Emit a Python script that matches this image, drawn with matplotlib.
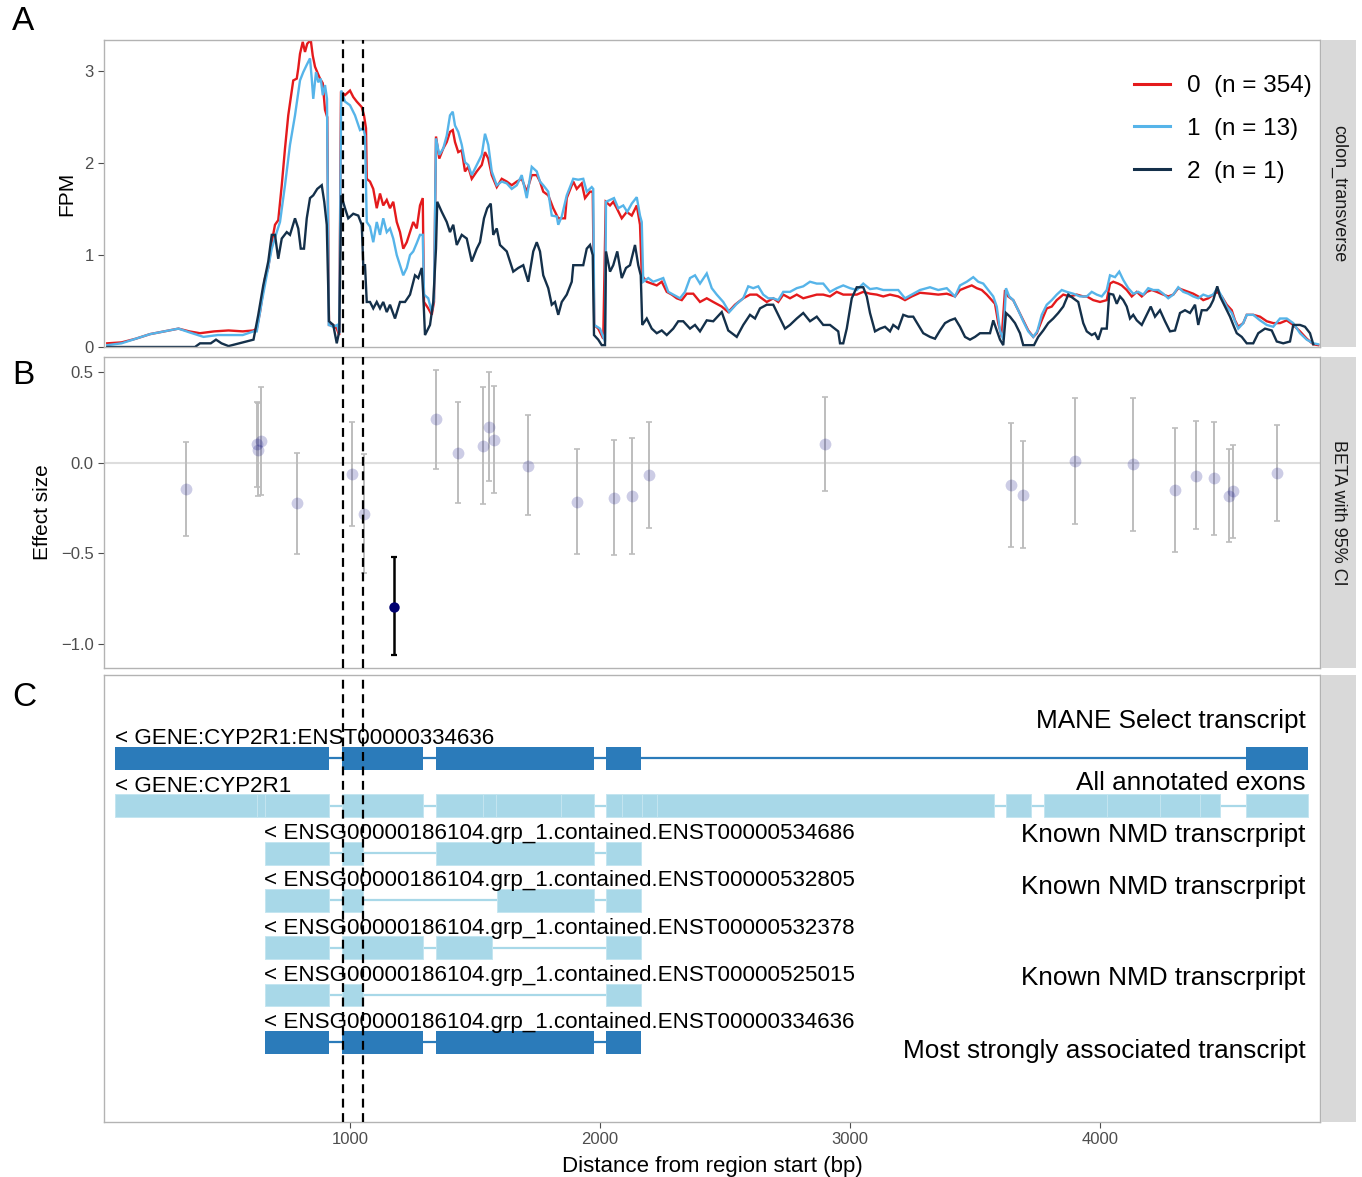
import matplotlib
matplotlib.use('Agg')
import matplotlib.pyplot as plt
from matplotlib.patches import Rectangle

plt.rcParams['font.family'] = ['Liberation Sans', 'DejaVu Sans']

# ---- Panel A: coverage (FPM) per genotype group ----
group_labels = ['0  (n = 354)', '1  (n = 13)', '2  (n = 1)']
group_colors = ['#e41a1c', '#56b4e9', '#14304a']

g0_pos = [29, 86, 143, 200, 257, 314, 357, 400, 457, 514, 571, 614, 627, 640, 660, 673, 687, 700, 713, 727,
          740, 753, 773, 787, 793, 800, 811, 820, 829, 843, 851, 860, 869, 880, 891, 900, 909, 916, 933, 947,
          957, 964, 980, 1000, 1013, 1027, 1047, 1056, 1064, 1067, 1080, 1093, 1107, 1120, 1133, 1147, 1160,
          1173, 1187, 1200, 1213, 1227, 1240, 1253, 1267, 1280, 1291, 1296, 1313, 1327, 1336, 1344, 1357,
          1373, 1387, 1400, 1411, 1420, 1433, 1447, 1460, 1473, 1487, 1507, 1527, 1540, 1553, 1567, 1587,
          1607, 1627, 1647, 1667, 1687, 1707, 1727, 1747, 1760, 1773, 1793, 1813, 1833, 1860, 1867, 1893,
          1907, 1927, 1940, 1960, 1971, 1977, 1993, 2013, 2023, 2040, 2053, 2067, 2087, 2107, 2127, 2147,
          2160, 2167, 2187, 2207, 2227, 2247, 2267, 2287, 2307, 2327, 2347, 2373, 2400, 2427, 2453, 2487,
          2513, 2540, 2573, 2600, 2627, 2647, 2667, 2693, 2713, 2733, 2760, 2787, 2813, 2840, 2867, 2893,
          2920, 2947, 2973, 3000, 3027, 3053, 3080, 3107, 3133, 3160, 3193, 3220, 3247, 3280, 3320, 3353,
          3387, 3420, 3440, 3467, 3487, 3507, 3527, 3547, 3567, 3580, 3593, 3607, 3620, 3633, 3653, 3673,
          3693, 3713, 3733, 3747, 3767, 3787, 3807, 3827, 3853, 3880, 3907, 3933, 3947, 3973, 4000, 4027,
          4040, 4053, 4073, 4087, 4107, 4127, 4147, 4167, 4187, 4207, 4227, 4253, 4273, 4293, 4313, 4333,
          4353, 4373, 4393, 4413, 4433, 4453, 4469, 4487, 4507, 4527, 4540, 4553, 4573, 4587, 4613, 4640,
          4667, 4693, 4720, 4747, 4773, 4800, 4827, 4840, 4853, 4873]
g0_fpm = [.04, .05, .09, .14, .17, .20, .17, .15, .17, .18, .17, .18, .20, .38, .75, .86, 1.14, 1.33, 1.38, 1.76,
          2.16, 2.52, 2.90, 2.92, 3.03, 3.19, 3.32, 3.21, 3.30, 3.34, 3.17, 3.05, 2.99, 2.92, 2.87, 2.58, 2.50,
          .24, .24, .20, .13, 2.78, 2.74, 2.79, 2.72, 2.67, 2.61, 2.52, 2.38, 1.83, 1.80, 1.72, 1.51, 1.67,
          1.54, 1.60, 1.51, 1.58, 1.36, 1.25, 1.07, 1.14, 1.25, 1.36, 1.29, 1.54, 1.62, .49, .42, .35, .49,
          2.29, 2.05, 2.16, 2.23, 2.34, 2.36, 2.23, 2.12, 2.14, 1.91, 1.96, 1.83, 1.91, 1.98, 2.12, 2.05,
          1.87, 1.74, 1.83, 1.80, 1.76, 1.80, 1.83, 1.69, 1.87, 1.87, 1.80, 1.69, 1.65, 1.51, 1.40, 1.40,
          1.62, 1.80, 1.72, 1.78, 1.62, 1.69, 1.69, .24, .20, .09, 1.58, 1.54, 1.58, 1.51, 1.40, 1.47, 1.43,
          1.54, 1.33, .78, .71, .69, .67, .71, .60, .57, .53, .51, .58, .58, .49, .53, .49, .44, .38, .46,
          .53, .57, .57, .53, .49, .53, .49, .57, .53, .57, .53, .55, .57, .57, .55, .60, .57, .57, .57, .60,
          .58, .57, .55, .57, .55, .51, .55, .59, .58, .57, .58, .55, .62, .65, .67, .64, .62, .57, .51, .47,
          .26, .11, .62, .55, .51, .40, .29, .18, .11, .15, .29, .42, .44, .51, .57, .55, .57, .55, .55, .51,
          .49, .51, .69, .71, .69, .67, .62, .55, .60, .55, .60, .62, .60, .57, .55, .57, .64, .62, .60, .58,
          .55, .51, .53, .57, .60, .55, .46, .40, .29, .22, .26, .35, .35, .33, .28, .26, .26, .29, .24, .17,
          .09, .06, .03, .02]

g1_pos = [29, 86, 143, 200, 257, 314, 357, 414, 471, 514, 571, 614, 627, 647, 667, 687, 707, 720, 740, 760,
          780, 800, 813, 827, 840, 847, 853, 864, 873, 883, 891, 900, 908, 915, 933, 949, 957, 965, 980, 1000,
          1020, 1040, 1053, 1060, 1067, 1080, 1093, 1107, 1120, 1133, 1147, 1160, 1173, 1187, 1200, 1213,
          1227, 1240, 1253, 1267, 1280, 1291, 1296, 1313, 1327, 1336, 1344, 1357, 1373, 1387, 1400, 1411,
          1420, 1433, 1447, 1460, 1473, 1487, 1507, 1527, 1540, 1553, 1567, 1587, 1607, 1627, 1647, 1667,
          1687, 1707, 1727, 1747, 1760, 1773, 1793, 1807, 1827, 1833, 1847, 1867, 1893, 1913, 1933, 1947,
          1967, 1973, 1977, 2000, 2020, 2024, 2040, 2056, 2073, 2093, 2109, 2127, 2147, 2160, 2167, 2173,
          2193, 2213, 2233, 2253, 2273, 2293, 2320, 2340, 2360, 2380, 2400, 2427, 2447, 2467, 2493, 2517,
          2547, 2573, 2593, 2613, 2633, 2653, 2673, 2693, 2713, 2733, 2760, 2787, 2813, 2840, 2867, 2893,
          2920, 2947, 2973, 3000, 3027, 3053, 3080, 3107, 3133, 3160, 3193, 3220, 3247, 3280, 3320, 3353,
          3387, 3420, 3440, 3467, 3493, 3513, 3533, 3553, 3573, 3587, 3600, 3613, 3624, 3637, 3653, 3673,
          3693, 3713, 3733, 3749, 3767, 3787, 3807, 3827, 3847, 3867, 3893, 3920, 3947, 3967, 3987, 4007,
          4027, 4040, 4060, 4077, 4093, 4113, 4133, 4153, 4173, 4193, 4213, 4233, 4253, 4273, 4293, 4313,
          4333, 4353, 4373, 4393, 4413, 4433, 4453, 4469, 4487, 4507, 4527, 4540, 4553, 4573, 4587, 4613,
          4640, 4667, 4693, 4720, 4747, 4773, 4800, 4827, 4853, 4873]
g1_fpm = [.02, .04, .09, .14, .17, .20, .16, .11, .13, .13, .13, .17, .17, .49, .78, 1.07, 1.25, 1.36, 1.76, 2.20,
          2.52, 2.90, 2.99, 3.07, 3.14, 2.92, 2.70, 2.99, 2.88, 2.92, 2.74, 2.85, 2.70, .24, .22, .24, .15,
          2.79, 2.67, 2.63, 2.52, 2.36, 2.38, 2.30, 1.36, 1.31, 1.14, 1.36, 1.22, 1.40, 1.25, 1.29, 1.18,
          1.00, .89, .78, .86, 1.00, 1.04, 1.13, 1.22, 1.22, .57, .53, .38, .53, 2.27, 2.09, 2.16, 2.30,
          2.52, 2.56, 2.41, 2.34, 2.20, 2.01, 1.98, 1.87, 1.98, 2.09, 2.32, 2.20, 1.91, 1.76, 1.80, 1.78,
          1.72, 1.76, 1.87, 1.62, 1.96, 1.91, 1.80, 1.76, 1.69, 1.43, 1.42, 1.33, 1.42, 1.65, 1.83, 1.82,
          1.83, 1.69, 1.74, 1.72, .24, .20, .06, 1.58, 1.60, 1.62, 1.51, 1.54, 1.47, 1.56, 1.63, 1.43, 1.36,
          .71, .75, .71, .73, .75, .60, .57, .53, .60, .75, .78, .69, .80, .64, .57, .49, .38, .47, .53, .66,
          .64, .66, .57, .53, .53, .51, .60, .60, .64, .66, .71, .69, .69, .60, .64, .67, .64, .62, .69, .63,
          .64, .62, .62, .62, .53, .57, .62, .65, .62, .64, .55, .67, .71, .76, .71, .69, .62, .55, .44, .18,
          .08, .64, .55, .51, .40, .28, .17, .11, .17, .35, .46, .51, .57, .62, .60, .58, .55, .55, .60, .57,
          .55, .62, .78, .76, .82, .73, .64, .58, .60, .57, .64, .62, .62, .58, .53, .57, .65, .60, .58, .55,
          .53, .57, .55, .57, .64, .55, .44, .37, .28, .20, .26, .35, .35, .29, .24, .22, .31, .31, .26, .15,
          .08, .04, .03]

g2_pos = [29, 380, 400, 443, 464, 486, 514, 557, 614, 633, 653, 673, 687, 700, 713, 727, 747, 760, 780, 793,
          803, 816, 827, 840, 853, 869, 887, 897, 907, 916, 933, 947, 957, 965, 980, 993, 1013, 1033, 1047,
          1053, 1060, 1067, 1080, 1093, 1107, 1120, 1133, 1147, 1160, 1180, 1200, 1220, 1240, 1260, 1273,
          1287, 1293, 1300, 1320, 1333, 1344, 1349, 1367, 1387, 1400, 1413, 1427, 1447, 1467, 1487, 1507,
          1520, 1536, 1549, 1563, 1573, 1587, 1600, 1627, 1653, 1673, 1693, 1713, 1733, 1747, 1760, 1773,
          1793, 1807, 1820, 1833, 1847, 1867, 1887, 1893, 1933, 1947, 1960, 1971, 1976, 1993, 2007, 2020,
          2024, 2040, 2053, 2069, 2087, 2104, 2120, 2140, 2153, 2163, 2169, 2187, 2207, 2227, 2247, 2267,
          2293, 2313, 2333, 2360, 2380, 2400, 2427, 2453, 2487, 2513, 2547, 2573, 2600, 2620, 2640, 2667,
          2693, 2713, 2740, 2760, 2787, 2813, 2840, 2867, 2893, 2920, 2953, 2960, 2973, 2987, 3007, 3027,
          3053, 3067, 3080, 3100, 3120, 3140, 3160, 3173, 3193, 3213, 3233, 3253, 3273, 3293, 3320, 3340,
          3360, 3380, 3400, 3420, 3440, 3460, 3480, 3500, 3520, 3540, 3560, 3573, 3587, 3600, 3613, 3624,
          3640, 3660, 3680, 3693, 3736, 3753, 3773, 3793, 3813, 3833, 3853, 3873, 3893, 3913, 3933, 3947,
          3967, 3980, 3993, 4007, 4027, 4037, 4053, 4067, 4080, 4093, 4107, 4120, 4133, 4147, 4167, 4187,
          4203, 4220, 4240, 4260, 4280, 4300, 4320, 4340, 4360, 4380, 4393, 4407, 4427, 4440, 4453, 4469,
          4480, 4500, 4520, 4536, 4547, 4567, 4587, 4613, 4633, 4660, 4687, 4707, 4733, 4760, 4773, 4800,
          4820, 4840, 4853]
g2_fpm = [0, 0, .04, .04, .08, .04, .01, .04, .08, .35, .67, .93, 1.22, 1.22, .96, 1.18, 1.25, 1.22, 1.40, 1.29,
          1.07, 1.07, 1.40, 1.62, 1.65, 1.72, 1.76, 1.58, 1.33, .28, .24, .04, .17, 1.65, 1.51, 1.40, 1.45,
          1.43, 1.33, .89, .89, .49, .49, .42, .49, .42, .49, .38, .46, .31, .49, .49, .57, .78, .75, .86,
          .57, .13, .24, .49, 1.07, 1.58, 1.47, 1.36, 1.25, 1.33, 1.11, 1.22, 1.18, .93, 1.07, 1.14, 1.40,
          1.51, 1.56, 1.22, 1.29, 1.11, 1.04, .82, .86, .89, .71, 1.04, 1.14, 1.04, .78, .64, .46, .49, .35,
          .49, .57, .71, .89, .89, 1.07, 1.11, 1.00, .13, .08, .02, .02, 1.04, .82, .89, 1.04, .75, .86, .89,
          1.11, .89, .78, .24, .31, .20, .15, .18, .13, .20, .28, .28, .20, .24, .17, .29, .28, .38, .18, .11,
          .24, .35, .31, .42, .46, .46, .35, .20, .24, .31, .37, .28, .33, .24, .24, .17, .04, .04, .20, .53,
          .65, .65, .55, .37, .17, .20, .22, .17, .24, .20, .35, .33, .33, .24, .15, .11, .09, .18, .26, .29,
          .31, .22, .11, .08, .11, .15, .15, .15, .29, .18, .08, .02, .37, .33, .26, .15, .02, .02, .11, .18,
          .26, .31, .37, .44, .57, .53, .49, .26, .17, .13, .15, .08, .20, .20, .58, .57, .47, .55, .51, .44,
          .31, .35, .29, .24, .35, .44, .33, .40, .28, .17, .18, .37, .40, .37, .46, .24, .40, .40, .44, .51,
          .66, .55, .44, .33, .22, .15, .11, .04, .04, .15, .20, .18, .06, .04, .06, .24, .24, .22, .15, .03]

# ---- Panel B: effect size (BETA with 95% CI) per variant ----
snp_pos = [343, 628, 630, 644, 786, 1008, 1055, 1175, 1344, 1433, 1533, 1555, 1577, 1713, 1908, 2056, 2127,
           2195, 2900, 3644, 3693, 3900, 4131, 4301, 4385, 4457, 4516, 4530, 4708]
beta = [-0.145, 0.101, 0.070, 0.118, -0.225, -0.064, -0.282, -0.794, 0.239, 0.055, 0.094, 0.197, 0.123,
        -0.017, -0.217, -0.197, -0.186, -0.068, 0.101, -0.122, -0.177, 0.007, -0.007, -0.151, -0.072,
        -0.087, -0.182, -0.157, -0.059]
ci_high = [0.114, 0.337, 0.328, 0.416, 0.053, 0.223, 0.048, -0.523, 0.514, 0.333, 0.418, 0.499, 0.422,
           0.263, 0.076, 0.123, 0.134, 0.225, 0.361, 0.221, 0.120, 0.357, 0.359, 0.193, 0.228, 0.227,
           0.074, 0.096, 0.206]
ci_low = [-0.405, -0.136, -0.182, -0.177, -0.505, -0.352, -0.610, -1.059, -0.035, -0.221, -0.227, -0.103,
          -0.169, -0.291, -0.506, -0.512, -0.503, -0.359, -0.158, -0.464, -0.473, -0.341, -0.376, -0.495,
          -0.368, -0.398, -0.436, -0.413, -0.320]
lead_snp = 7

# ---- Panel C: transcript models ----
track_names = ['< GENE:CYP2R1:ENST00000334636',
               '< GENE:CYP2R1',
               '< ENSG00000186104.grp_1.contained.ENST00000534686',
               '< ENSG00000186104.grp_1.contained.ENST00000532805',
               '< ENSG00000186104.grp_1.contained.ENST00000532378',
               '< ENSG00000186104.grp_1.contained.ENST00000525015',
               '< ENSG00000186104.grp_1.contained.ENST00000334636']
track_exons = [
    [(61, 914), (967, 1293), (1344, 1975), (2024, 2164), (4585, 4833)],
    [(61, 628), (628, 658), (658, 914), (967, 1293), (1344, 1531), (1531, 1584), (1584, 1845),
     (1845, 1975), (2023, 2089), (2089, 2169), (2169, 2228), (2228, 3576), (3625, 3725), (3775, 4029),
     (4029, 4238), (4238, 4398), (4398, 4481), (4585, 4833)],
    [(658, 914), (967, 1053), (1344, 1975), (2024, 2164)],
    [(658, 914), (967, 1053), (1587, 1975), (2024, 2164)],
    [(658, 914), (967, 1293), (1344, 1566), (2024, 2164)],
    [(658, 914), (967, 1053), (2024, 2164)],
    [(658, 914), (967, 1293), (1344, 1975), (2024, 2164)],
]
track_dark = [True, False, False, False, False, False, True]
track_notes = ['MANE Select transcript', 'All annotated exons', 'Known NMD transcrpript',
               'Known NMD transcrpript', '', 'Known NMD transcrpript', 'Most strongly associated transcript']
note_y = [0.645, -0.666, -1.765, -2.865, 0, -4.789, -6.332]

marked_region = [972, 1050]
x_ticks = [1000, 2000, 3000, 4000]

DARK = '#2b7bba'
LIGHT = '#a8d8e8'
FRAME = '#b3b3b3'
STRIP = '#d9d9d9'
TICK = '#4d4d4d'

fig = plt.figure(figsize=(13.62, 11.77), dpi=100)
L, W = 104 / 1362, 1216 / 1362


def panel(top_px, bottom_px):
    ax = fig.add_axes([L, 1 - bottom_px / 1177, W, (bottom_px - top_px) / 1177])
    for s in ax.spines.values():
        s.set_color(FRAME)
        s.set_linewidth(1.0)
    ax.tick_params(colors=TICK, labelcolor=TICK, labelsize=12, length=4, width=0.8)
    ax.set_xlim(16, 4880)
    return ax


def strip(top_px, bottom_px, label):
    sax = fig.add_axes([1321 / 1362, 1 - bottom_px / 1177, 35 / 1362, (bottom_px - top_px) / 1177])
    sax.set_facecolor(STRIP)
    sax.set_xticks([])
    sax.set_yticks([])
    for s in sax.spines.values():
        s.set_visible(False)
    if label:
        sax.text(0.5, 0.5, label, rotation=-90, ha='center', va='center', fontsize=13,
                 color='#1a1a1a', transform=sax.transAxes)


# Panel A
axA = panel(40, 347)
for pos, fpm, col, lab in [(g0_pos, g0_fpm, group_colors[0], group_labels[0]),
                           (g1_pos, g1_fpm, group_colors[1], group_labels[1]),
                           (g2_pos, g2_fpm, group_colors[2], group_labels[2])]:
    axA.plot(pos, fpm, color=col, lw=1.7, label=lab, solid_joinstyle='miter')
axA.set_ylim(0, 3.34)
axA.set_yticks([0, 1, 2, 3])
axA.set_xticks([])
axA.set_ylabel('FPM', fontsize=15, labelpad=6)
leg = axA.legend(loc='upper right', bbox_to_anchor=(0.993, 0.885), frameon=False, fontsize=17.5,
                 handlelength=1.45, handletextpad=0.7, labelspacing=0.85, borderaxespad=0, borderpad=0)
for ln in leg.get_lines():
    ln.set_linewidth(2.2)
strip(40, 347, 'colon_transverse')

# Panel B
axB = panel(357, 668)
axB.axhline(0, color='#dddddd', lw=1.5, zorder=0)
for i in range(len(snp_pos)):
    if i == lead_snp:
        continue
    axB.errorbar(snp_pos[i], beta[i], yerr=[[beta[i] - ci_low[i]], [ci_high[i] - beta[i]]], fmt='none',
                 ecolor='#bdbdbd', elinewidth=1.4, capsize=2.2, capthick=1.2, zorder=2)
    axB.plot(snp_pos[i], beta[i], 'o', color='#000080', alpha=0.2, ms=8.5, mec='none', zorder=3)
axB.errorbar(snp_pos[lead_snp], beta[lead_snp],
             yerr=[[beta[lead_snp] - ci_low[lead_snp]], [ci_high[lead_snp] - beta[lead_snp]]], fmt='none',
             ecolor='black', elinewidth=1.8, capsize=2.5, capthick=1.6, zorder=4)
axB.plot(snp_pos[lead_snp], beta[lead_snp], 'o', color='#000070', ms=7.5, mec='none', zorder=5)
axB.set_ylim(-1.133, 0.583)
axB.set_yticks([0.5, 0.0, -0.5, -1.0])
axB.set_yticklabels(['0.5', '0.0', '\u22120.5', '\u22121.0'])
axB.set_xticks([])
axB.set_ylabel('Effect size', fontsize=15, labelpad=6)
strip(357, 668, 'BETA with 95% CI')

# Panel C
axC = panel(675, 1122)
h = 0.486
for i, exons in enumerate(track_exons):
    y = -i
    col = DARK if track_dark[i] else LIGHT
    axC.plot([exons[0][0], exons[-1][1]], [y, y], color=col, lw=1.6, zorder=2, solid_capstyle='butt')
    for s, e in exons:
        axC.add_patch(Rectangle((s, y - h / 2), e - s, h, facecolor=col,
                                edgecolor='#c4e5f0' if not track_dark[i] else col,
                                lw=0.7 if not track_dark[i] else 0, zorder=3))
    axC.text(exons[0][0], y + 0.30, track_names[i], ha='left', va='baseline', fontsize=16.1, zorder=6)
    if track_notes[i]:
        axC.text(4822, note_y[i], track_notes[i], ha='right', va='baseline', fontsize=18.8, zorder=6)
axC.set_ylim(-7.685, 1.765)
axC.set_yticks([])
axC.set_xticks(x_ticks)
axC.set_xlabel('Distance from region start (bp)', fontsize=16, labelpad=6)
strip(675, 1122, '')

for ax in (axA, axB, axC):
    for xv in marked_region:
        ax.axvline(xv, color='black', lw=1.6, ls=(0, (4, 2.5)), zorder=7)

for lab, ypx in [('A', 22), ('B', 375), ('C', 698)]:
    fig.text(12 / 1362, 1 - ypx / 1177, lab, fontsize=24, ha='left', va='center')

fig.savefig('out.png', dpi=100)
